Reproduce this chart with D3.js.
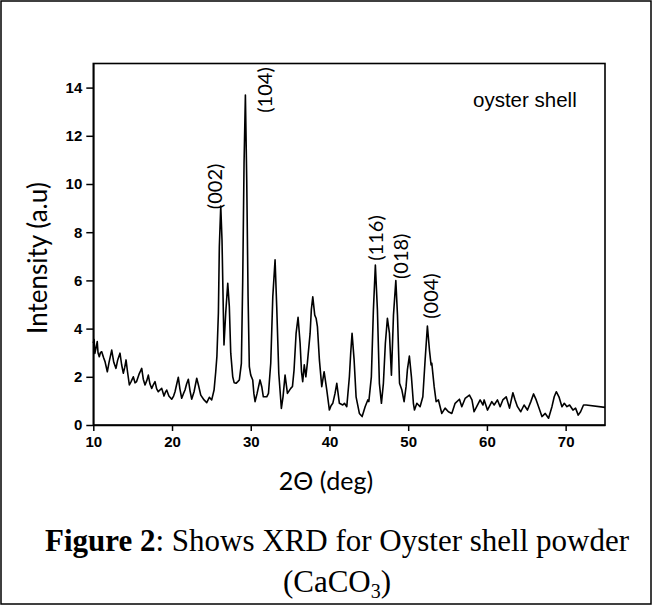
<!DOCTYPE html>
<html>
<head>
<meta charset="utf-8">
<script src="https://cdn.jsdelivr.net/npm/d3@7/dist/d3.min.js"></script>
<style>
  html, body { margin: 0; padding: 0; background: #fff; }
  svg { display: block; }
</style>
</head>
<body>
<svg id="chart" width="653" height="606"></svg>
<script>
// ---- data ----
const twoTheta = [10.0,10.1,10.2,10.35,10.5,10.6,10.76,10.9,11.07,11.3,11.49,11.78,12.0,12.34,12.6,12.88,13.1,13.39,13.6,13.81,14.0,14.16,14.35,14.58,14.8,15.08,15.3,15.5,15.8,16.15,16.35,16.57,16.8,16.99,17.2,17.42,17.6,17.84,18.05,18.26,18.45,18.69,18.98,19.15,19.32,19.6,19.96,20.2,20.38,20.6,20.8,21.0,21.23,21.45,21.65,21.85,22.07,22.3,22.5,22.8,23.14,23.4,23.65,24.07,24.41,24.74,25.04,25.34,25.55,25.7,25.89,26.01,26.19,26.35,26.52,26.6,26.82,27.08,27.28,27.46,27.71,27.9,28.13,28.35,28.55,28.81,28.98,29.15,29.32,29.49,29.66,29.82,30.0,30.25,30.4,30.55,30.8,31.0,31.18,31.4,31.6,32.03,32.25,32.54,32.8,33.09,33.3,33.56,33.89,34.1,34.36,34.66,35.08,35.3,35.5,35.76,36.01,36.27,36.45,36.6,36.8,37.0,37.2,37.54,37.7,37.88,38.13,38.3,38.47,38.72,39.02,39.32,39.66,39.99,40.2,40.42,40.7,40.93,41.26,41.69,41.9,42.2,42.53,42.7,42.87,43.13,43.38,43.8,44.15,44.53,44.87,45.0,45.32,45.58,45.83,46.09,46.34,46.6,46.85,47.1,47.36,47.62,47.87,48.13,48.43,48.64,48.9,49.2,49.48,49.73,49.9,50.15,50.41,50.66,50.8,51.1,51.51,51.86,52.15,52.44,52.7,52.91,53.0,53.3,53.55,53.84,54.27,54.69,55.11,55.54,55.96,56.51,56.81,57.23,57.78,58.1,58.37,58.7,59.14,59.5,59.65,60.07,60.62,60.92,61.34,61.68,62.02,62.45,62.87,63.3,63.58,63.88,64.3,64.72,65.15,65.58,65.92,66.26,66.56,66.99,67.41,67.83,68.26,68.55,68.81,69.15,69.53,69.83,70.17,70.5,70.93,71.26,71.6,71.9,72.27,72.6,75.0];
const intensity = [3.4,3.55,2.97,3.2,3.46,3.0,2.83,3.0,3.04,2.8,2.63,2.21,2.6,3.11,2.6,2.35,2.7,2.98,2.5,2.15,2.4,2.7,2.2,1.66,1.8,2.0,1.75,1.8,2.1,2.35,1.9,1.66,1.85,2.07,1.7,1.52,1.65,1.8,1.5,1.38,1.45,1.52,1.2,1.35,1.45,1.2,1.07,1.2,1.38,1.7,1.98,1.5,1.11,1.3,1.45,1.7,1.9,1.4,1.07,1.38,1.94,1.6,1.24,1.04,0.93,1.15,1.04,1.45,2.2,2.84,4.65,7.4,9.09,7.68,4.65,3.32,4.65,5.88,4.91,2.98,2.0,1.75,1.73,1.8,1.87,2.56,6.0,10.86,13.69,10.17,5.32,2.42,2.07,1.87,1.3,0.97,1.3,1.6,1.87,1.59,1.17,1.17,1.31,2.56,5.32,6.85,4.91,2.15,0.69,1.17,2.07,1.31,1.52,1.6,2.28,3.8,4.47,3.39,2.2,1.8,2.5,2.0,2.6,3.8,4.8,5.32,4.56,4.43,4.08,2.7,1.59,2.21,1.45,0.62,0.8,0.9,1.3,1.73,0.9,0.83,0.9,0.76,2.0,3.0,3.8,2.7,1.17,0.48,0.35,0.76,1.04,0.97,2.0,4.77,6.64,4.77,1.73,0.9,1.73,3.39,4.43,3.8,2.07,4.56,5.99,4.56,1.73,1.45,0.97,1.59,2.3,2.86,2.0,0.9,0.62,0.9,0.76,1.17,2.7,4.11,3.11,2.49,2.56,1.59,0.97,1.04,0.48,0.7,0.55,0.48,0.9,1.07,0.76,1.1,1.24,1.04,0.55,0.76,1.04,0.83,1.04,0.62,0.97,0.83,1.04,0.76,1.04,1.17,0.7,1.34,1.04,0.76,0.55,0.83,0.62,0.97,1.29,1.04,0.76,0.35,0.48,0.28,0.76,1.17,1.38,1.17,0.76,0.9,0.76,0.83,0.62,0.7,0.41,0.55,0.83,0.83,0.73];

const xTicks = [10, 20, 30, 40, 50, 60, 70];
const yTicks = [0, 2, 4, 6, 8, 10, 12, 14];

const peakLabels = ["(002)", "(104)", "(116)", "(018)", "(004)"];
const peakLabelX = [25.45, 31.8, 45.9, 49.1, 52.85];   // 2θ of label centre
const peakLabelY = [9.9, 13.9, 7.76, 7.0, 5.35];      // intensity of label centre

const xTitle = "2Θ (deg)";
const yTitle = "Intensity (a.u)";
const sampleName = "oyster shell";

// ---- layout ----
const svg = d3.select("#chart");
const plot = { left: 93.3, right: 605, top: 63.5, bottom: 425 };

svg.append("rect").attr("x", 0).attr("y", 0).attr("width", 653).attr("height", 606).attr("fill", "#fff");
// outer figure border
svg.append("rect").attr("x", 1).attr("y", 1).attr("width", 650).attr("height", 603)
  .attr("fill", "none").attr("stroke", "#000").attr("stroke-width", 1.5);

const x = d3.scaleLinear().domain([10, 75]).range([plot.left, plot.right]);
const y = d3.scaleLinear().domain([0, 15]).range([plot.bottom, plot.top]);

// plot frame
svg.append("rect")
  .attr("x", plot.left).attr("y", plot.top)
  .attr("width", plot.right - plot.left).attr("height", plot.bottom - plot.top)
  .attr("fill", "none").attr("stroke", "#000").attr("stroke-width", 1.6);

const xAxis = svg.append("g").attr("transform", `translate(0,${plot.bottom})`)
  .call(d3.axisBottom(x).tickValues(xTicks).tickSize(6).tickSizeOuter(0).tickPadding(5).tickFormat(d3.format("d")));
const yAxis = svg.append("g").attr("transform", `translate(${plot.left},0)`)
  .call(d3.axisLeft(y).tickValues(yTicks).tickSize(7).tickSizeOuter(0).tickPadding(4).tickFormat(d3.format("d")));

[xAxis, yAxis].forEach(g => {
  g.select(".domain").attr("stroke", "#000").attr("stroke-width", 1.6);
  g.selectAll(".tick line").attr("stroke", "#000").attr("stroke-width", 1.5);
  g.selectAll(".tick text")
    .attr("fill", "#000")
    .style("font-family", "'Liberation Sans', Arial, sans-serif")
    .style("font-weight", "bold")
    .style("font-size", "15px");
});

// trace
const pts = twoTheta.map((t, i) => [t, intensity[i]]);
svg.append("path")
  .datum(pts)
  .attr("fill", "none")
  .attr("stroke", "#000")
  .attr("stroke-width", 1.6)
  .attr("stroke-linejoin", "round")
  .attr("d", d3.line().x(d => x(d[0])).y(d => y(d[1])));

// peak labels
svg.append("g").selectAll("text")
  .data(peakLabels)
  .join("text")
  .attr("transform", (d, i) => `translate(${x(peakLabelX[i]) + 7},${y(peakLabelY[i])}) rotate(-90)`)
  .attr("text-anchor", "middle")
  .style("font-family", "Lato, 'Open Sans', sans-serif")
  .style("font-size", "20px")
  .attr("fill", "#000")
  .text(d => d);

// sample name
svg.append("text")
  .attr("x", 473).attr("y", 107)
  .style("font-family", "'Liberation Sans', Arial, sans-serif")
  .style("font-size", "20.5px")
  .attr("fill", "#000")
  .text(sampleName);

// axis titles
svg.append("text")
  .attr("x", 326).attr("y", 490)
  .attr("text-anchor", "middle")
  .style("font-family", "Lato, 'Open Sans', sans-serif")
  .style("font-size", "25px")
  .attr("fill", "#000")
  .text(xTitle);

svg.append("text")
  .attr("transform", "translate(47,258) rotate(-90)")
  .attr("text-anchor", "middle")
  .style("font-family", "Lato, 'Open Sans', sans-serif")
  .style("font-size", "26px")
  .attr("fill", "#000")
  .text(yTitle);

// caption
const cap1 = svg.append("text")
  .attr("x", 337).attr("y", 551)
  .attr("text-anchor", "middle")
  .style("font-family", "'Liberation Serif', 'Times New Roman', serif")
  .style("font-size", "31px")
  .attr("fill", "#000");
cap1.append("tspan").style("font-weight", "bold").text("Figure 2");
cap1.append("tspan").text(": Shows XRD for Oyster shell powder");

const cap2 = svg.append("text")
  .attr("x", 337).attr("y", 592)
  .attr("text-anchor", "middle")
  .style("font-family", "'Liberation Serif', 'Times New Roman', serif")
  .style("font-size", "31px")
  .attr("fill", "#000");
cap2.append("tspan").text("(CaCO");
cap2.append("tspan").attr("dy", 6).style("font-size", "20px").text("3");
cap2.append("tspan").attr("dy", -6).text(")");
</script>
</body>
</html>
